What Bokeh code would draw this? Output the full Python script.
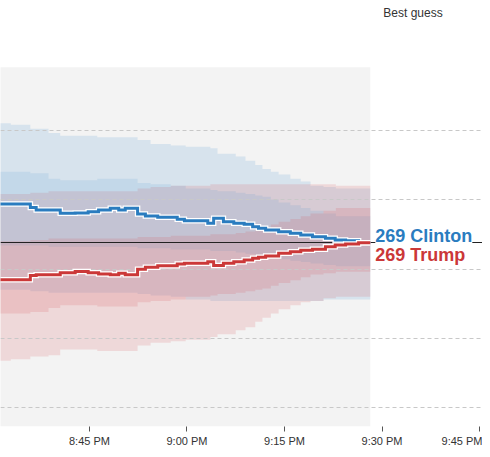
from bokeh.plotting import figure
from bokeh.models import Range1d, FixedTicker, Label, ColumnDataSource
from bokeh.core.properties import value
from bokeh.embed import file_html
from bokeh.resources import INLINE

# ---- data (time = minutes after 8:00 PM, values = electoral votes) ----
step_times = [28.0, 35.9, 36.8, 40.5, 42.8, 44.8, 46.4, 48.2, 49.5, 50.5, 52.4, 53.6,
              55.5, 58.5, 59.6, 63.2, 64.1, 65.6, 67.2, 68.8, 70.1, 71.0, 72.1, 74.1,
              75.9, 77.5, 79.3, 81.3, 82.8, 84.4, 86.4, 88.2]
clinton_ev = [296.8, 294.4, 292.5, 290.1, 290.3, 291.3, 292.5, 293.7, 292.5, 293.7, 289.6, 288.2,
              287.3, 285.8, 284.8, 282.9, 286.5, 284.1, 282.9, 282.2, 280.5, 279.3, 278.1, 276.9,
              275.8, 274.5, 273.3, 272.2, 270.9, 270.4, 269, 269]
trump_ev = [242.2, 245.3, 245.8, 247.4, 248.2, 247.4, 246.5, 245.8, 247.0, 245.8, 249.9, 251.3,
            252.3, 253.7, 254.2, 255.3, 252.5, 254.2, 255.3, 256.6, 257.8, 258.5, 259.4, 261.4,
            262.5, 263.5, 264.3, 266.1, 267.3, 268.0, 269, 269]

band_times = [28.0, 32.9, 35.9, 38.7, 40.5, 46.2, 52.4, 54.4, 57.5, 59.8, 63.6, 64.7,
              67.5, 69.0, 70.5, 71.6, 72.9, 74.1, 75.9, 77.5, 79.0, 81.0, 82.9, 88.2]
clinton_outer_hi = [355, 354, 351, 348, 346, 345, 343, 340, 339, 338, 337, 333,
                    331, 328, 325, 322, 320, 318, 315, 313, 310, 309, 308, 308]
clinton_inner_hi = [320, 320, 319, 315, 314, 315, 312, 311, 310, 308, 307, 306,
                    305, 304, 303, 302, 300, 298, 296, 294, 292, 290, 288, 288]
clinton_inner_lo = [267, 267, 267, 266, 266, 266, 265, 265, 264, 264, 263, 263,
                    262, 261, 260, 259, 258, 257, 256, 255, 254, 253, 252, 252]
clinton_outer_lo = [235, 235, 234, 233, 233, 233, 232, 231, 230, 228, 227, 227,
                    227, 227, 227, 227, 227, 227, 227, 227, 227, 228, 228, 228]
trump_outer_hi = [304, 304, 305, 306, 306, 306, 308, 309, 310, 310, 311, 311,
                  311, 311, 311, 311, 311, 311, 311, 311, 311, 311, 310, 310]
trump_inner_hi = [270, 270, 271, 272, 272, 272, 273, 273, 274, 274, 275, 275,
                  276, 277, 278, 280, 282, 284, 286, 288, 290, 292, 294, 294]
trump_inner_lo = [218, 218, 219, 222, 224, 223, 226, 227, 228, 230, 231, 232,
                  233, 234, 235, 236, 238, 240, 242, 244, 246, 247, 248, 248]
trump_outer_lo = [184, 185, 187, 188, 192, 191, 195, 197, 198, 199, 201, 203,
                  206, 208, 212, 215, 218, 221, 224, 226, 227, 229, 230, 230]

tick_minutes = [30, 45, 60, 75, 90, 105]
tick_labels = ["8:30 PM", "8:45 PM", "9:00 PM", "9:15 PM", "9:30 PM", "9:45 PM"]
grid_ev = [150, 200, 250, 300, 350]
tie_ev = 269
panel_top_ev = 395.3
legend_note = "Best guess"
legend_note_pos = (90.2, 434.1)

BLUE = "#2a7cbf"
RED = "#cb3838"
BLUE_BAND = "#3a8fd0"
RED_BAND = "#d9464b"

x_lo, x_hi = 31.31, 105.46
y_lo, y_hi = 136.6, 443.4

p = figure(width=482, height=449, output_backend="svg", toolbar_location=None,
           x_range=Range1d(x_lo, x_hi), y_range=Range1d(y_lo, y_hi),
           y_axis_location=None, min_border_left=0, min_border_right=0,
           min_border_top=0, min_border_bottom=22, outline_line_color=None,
           background_fill_color="white", border_fill_color="white")
p.grid.visible = False

# gray panel behind the data period
p.quad(left=[band_times[0]], right=[band_times[-1]], bottom=[y_lo], top=[panel_top_ev],
       fill_color="#f3f3f3", line_color=None)

bands = ColumnDataSource(dict(t=band_times,
                              c_oh=clinton_outer_hi, c_ih=clinton_inner_hi,
                              c_il=clinton_inner_lo, c_ol=clinton_outer_lo,
                              t_oh=trump_outer_hi, t_ih=trump_inner_hi,
                              t_il=trump_inner_lo, t_ol=trump_outer_lo))
p.varea_step(x="t", y1="c_ol", y2="c_oh", step_mode="after", source=bands,
             fill_color=BLUE_BAND, fill_alpha=0.15)
p.varea_step(x="t", y1="t_ol", y2="t_oh", step_mode="after", source=bands,
             fill_color=RED_BAND, fill_alpha=0.15)
p.varea_step(x="t", y1="c_il", y2="c_ih", step_mode="after", source=bands,
             fill_color=BLUE_BAND, fill_alpha=0.12)
p.varea_step(x="t", y1="t_il", y2="t_ih", step_mode="after", source=bands,
             fill_color=RED_BAND, fill_alpha=0.15)

# dashed grid lines and tie line
p.hspan(y=grid_ev, line_color="#c8c8c8", line_dash="4 3", line_width=1)
p.hspan(y=[tie_ev], line_color="#222222", line_width=1)

# step lines with white casing
for vals, col in ((clinton_ev, BLUE), (trump_ev, RED)):
    p.step(step_times, vals, mode="after", line_color="white", line_width=5.5,
           line_join="miter")
    p.step(step_times, vals, mode="after", line_color=col, line_width=3,
           line_join="miter")

# legend note at the very top
p.text(x=[legend_note_pos[0]], y=[legend_note_pos[1]], text=[legend_note],
       text_font=value("Liberation Sans"), text_font_size="12px",
       text_color="#333333", text_baseline="alphabetic")

# end labels
p.add_layout(Label(x=step_times[-1], y=tie_ev, x_offset=5, y_offset=7,
                   text=f"{clinton_ev[-1]} Clinton", text_font="Liberation Sans",
                   text_font_style="bold", text_font_size="18px", text_color=BLUE,
                   text_baseline="alphabetic", background_fill_color="white"))
p.add_layout(Label(x=step_times[-1], y=tie_ev, x_offset=5, y_offset=-12,
                   text=f"{trump_ev[-1]} Trump", text_font="Liberation Sans",
                   text_font_style="bold", text_font_size="18px", text_color=RED,
                   text_baseline="alphabetic"))

ax = p.xaxis[0]
ax.ticker = FixedTicker(ticks=tick_minutes)
ax.major_label_overrides = dict(zip(tick_minutes, tick_labels))
ax.axis_line_color = None
ax.major_tick_in = 0
ax.major_tick_out = 5
ax.minor_tick_out = 0
ax.minor_tick_in = 0
ax.major_tick_line_color = "#555555"
ax.major_label_text_font = "Liberation Sans"
ax.major_label_text_font_size = "11px"
ax.major_label_text_color = "#333333"
ax.major_label_standoff = 3

open("out.html", "w").write(file_html(p, INLINE))
